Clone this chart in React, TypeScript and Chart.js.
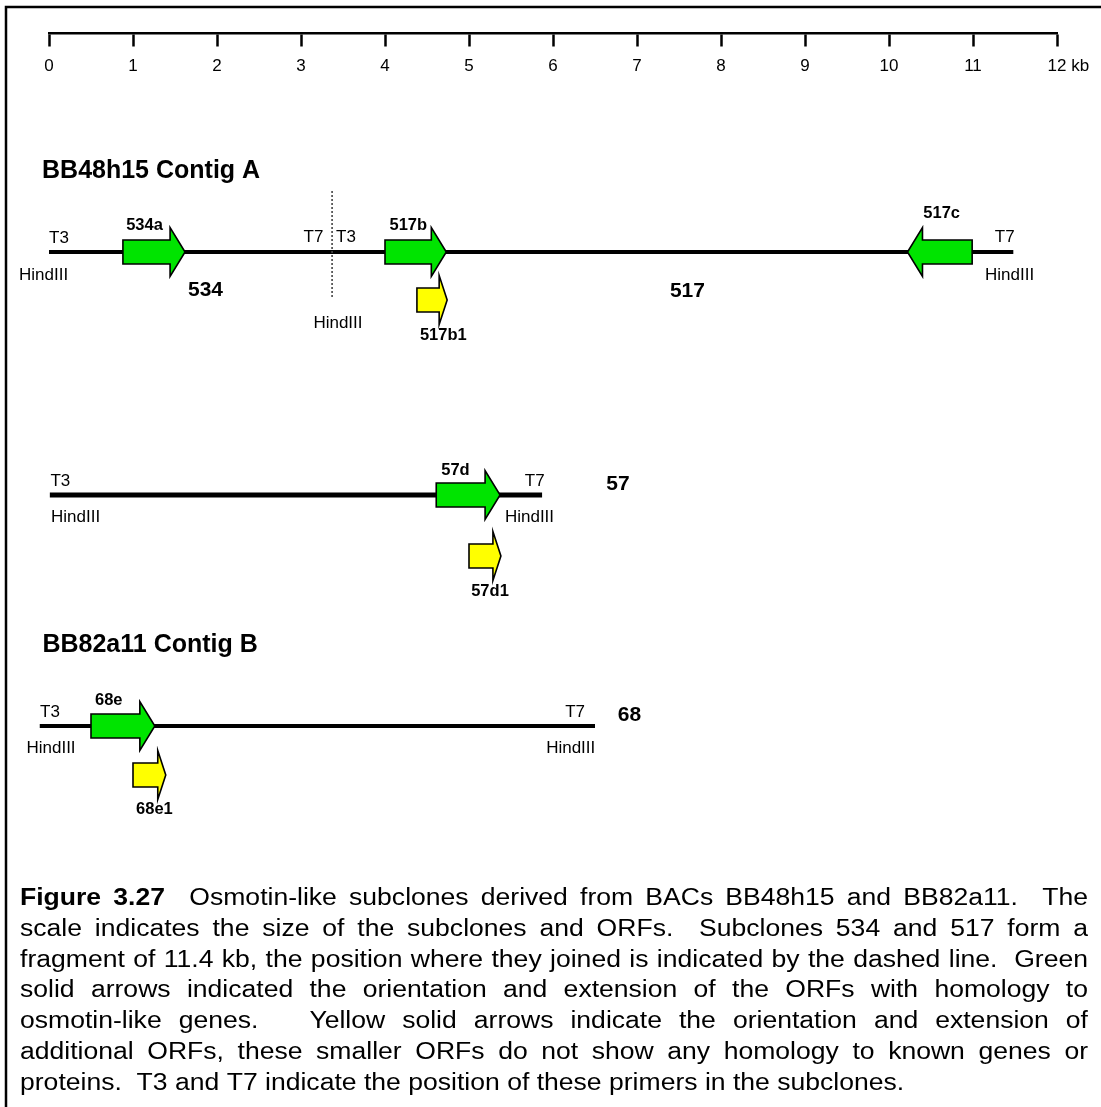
import React, { useEffect, useRef } from "react";
import { Chart, registerables } from "chart.js";

Chart.register(...registerables);

// ---------------- data (kb) ----------------
const TICK_KB = [0, 1, 2, 3, 4, 5, 6, 7, 8, 9, 10, 11, 12];
const TICK_LABELS = ["0", "1", "2", "3", "4", "5", "6", "7", "8", "9", "10", "11", "12"];
const SCALE_UNIT = "kb";

const FRAGMENT_NAMES = ["534 + 517", "57", "68"];
const FRAGMENT_START_KB = [0, 0.01, -0.11];
const FRAGMENT_END_KB = [11.48, 5.87, 6.5];
const JUNCTION_KB = [3.37];

const ORF_NAMES = ["534a", "517b", "517c", "517b1", "57d", "57d1", "68e", "68e1"];
const ORF_FROM_KB = [0.88, 4.0, 10.99, 4.38, 4.61, 5.0, 0.5, 1.0];
const ORF_TO_KB = [1.62, 4.73, 10.22, 4.74, 5.37, 5.38, 1.26, 1.39];
const ORF_KIND = ["osmotin", "osmotin", "osmotin", "other", "osmotin", "other", "osmotin", "other"];

const CAPTION_LINES = [
  "Figure 3.27  Osmotin-like subclones derived from BACs BB48h15 and BB82a11.  The",
  "scale indicates the size of the subclones and ORFs.  Subclones 534 and 517 form a",
  "fragment of 11.4 kb, the position where they joined is indicated by the dashed line.  Green",
  "solid arrows indicated the orientation and extension of the ORFs with homology to",
  "osmotin-like genes.   Yellow solid arrows indicate the orientation and extension of",
  "additional ORFs, these smaller ORFs do not show any homology to known genes or",
  "proteins.  T3 and T7 indicate the position of these primers in the subclones.",
];
const CAPTION_BOLD_WORDS = 2;

// ---------------- layout / style ----------------
const W = 1101;
const H = 1107;
const FONT = "'Liberation Sans', Arial, Helvetica, sans-serif";
const PAD_LEFT = 49;
const PAD_RIGHT = 44;
const SCALE_Y = 33.3;
const TICK_LEN = 12;
const TICK_PAD = 10.5;
const TICK_FONT_SIZE = 17;
const FRAGMENT_Y = [252, 495, 726];
const FRAGMENT_WIDTH = [4, 5, 4];
const ORF_Y = [252, 252, 252, 300, 495, 556, 726, 775];
const JUNCTION_Y = [191, 298];
const SHAFT_HALF = 12;
const HEAD_HALF = 24.5;
const ORF_STYLE: Record<string, { fill: string; head: number }> = {
  osmotin: { fill: "#00e400", head: 15 },
  other: { fill: "#ffff00", head: 8 },
};

type Ann = { text: string; kb: number; y: number; align: CanvasTextAlign; font: string };
const SMALL = `17px ${FONT}`;
const ORFF = `bold 16.5px ${FONT}`;
const CLONEF = `bold 21px ${FONT}`;
const TITLEF = `bold 25px ${FONT}`;

const ANNOTATIONS: Ann[] = [
  { text: "BB48h15 Contig A", kb: -0.083, y: 178.3, align: "left", font: TITLEF },
  { text: "BB82a11 Contig B", kb: -0.078, y: 651.7, align: "left", font: TITLEF },
  // contig A
  { text: "T3", kb: 0.0, y: 243.3, align: "left", font: SMALL },
  { text: "HindIII", kb: -0.065, y: 280, align: "center", font: SMALL },
  { text: "T7", kb: 3.266, y: 241.7, align: "right", font: SMALL },
  { text: "T3", kb: 3.417, y: 241.7, align: "left", font: SMALL },
  { text: "HindIII", kb: 3.44, y: 328.3, align: "center", font: SMALL },
  { text: "T7", kb: 11.496, y: 242, align: "right", font: SMALL },
  { text: "HindIII", kb: 11.435, y: 280, align: "center", font: SMALL },
  { text: "534a", kb: 1.137, y: 230, align: "center", font: ORFF },
  { text: "517b", kb: 4.277, y: 230, align: "center", font: ORFF },
  { text: "517c", kb: 10.627, y: 218.3, align: "center", font: ORFF },
  { text: "517b1", kb: 4.694, y: 340, align: "center", font: ORFF },
  { text: "534", kb: 1.863, y: 295.7, align: "center", font: CLONEF },
  { text: "517", kb: 7.6, y: 296.7, align: "center", font: CLONEF },
  // 57
  { text: "T3", kb: 0.017, y: 486, align: "left", font: SMALL },
  { text: "HindIII", kb: 0.024, y: 521.7, align: "left", font: SMALL },
  { text: "T7", kb: 5.9, y: 486, align: "right", font: SMALL },
  { text: "HindIII", kb: 5.72, y: 521.7, align: "center", font: SMALL },
  { text: "57d", kb: 4.839, y: 475, align: "center", font: ORFF },
  { text: "57d1", kb: 5.25, y: 596, align: "center", font: ORFF },
  { text: "57", kb: 6.774, y: 490, align: "center", font: CLONEF },
  // 68
  { text: "T3", kb: -0.107, y: 716.7, align: "left", font: SMALL },
  { text: "HindIII", kb: 0.024, y: 752.7, align: "center", font: SMALL },
  { text: "T7", kb: 6.381, y: 716.7, align: "right", font: SMALL },
  { text: "HindIII", kb: 6.211, y: 752.7, align: "center", font: SMALL },
  { text: "68e", kb: 0.711, y: 705, align: "center", font: ORFF },
  { text: "68e1", kb: 1.255, y: 814.3, align: "center", font: ORFF },
  { text: "68", kb: 6.91, y: 720.7, align: "center", font: CLONEF },
];

const CAPTION_LEFT = 20;
const CAPTION_RIGHT = 1088;
const CAPTION_FIRST_BASELINE = 905;
const CAPTION_STEP = 30.8;
const CAPTION_SIZE = 23.5;
const CAPTION_STRETCH = 1.13;

function drawCaption(ctx: CanvasRenderingContext2D) {
  const normal = `${CAPTION_SIZE}px ${FONT}`;
  const bold = `bold ${CAPTION_SIZE}px ${FONT}`;
  ctx.save();
  ctx.fillStyle = "#000";
  ctx.textBaseline = "alphabetic";
  ctx.textAlign = "left";
  CAPTION_LINES.forEach((line, li) => {
    const parts = line.split(/( +)/);
    const words: { t: string; b: boolean }[] = [];
    const gaps: number[] = [];
    let wi = 0;
    parts.forEach((p, i) => {
      if (i % 2 === 0) {
        words.push({ t: p, b: li === 0 && wi < CAPTION_BOLD_WORDS });
        wi++;
      } else gaps.push(p.length);
    });
    ctx.font = normal;
    const spaceW = ctx.measureText(" ").width;
    let natural = 0;
    const widths = words.map((w) => {
      ctx.font = w.b ? bold : normal;
      const m = ctx.measureText(w.t).width;
      natural += m;
      return m;
    });
    const nSpaces = gaps.reduce((a, b) => a + b, 0);
    natural += nSpaces * spaceW;
    const avail = (CAPTION_RIGHT - CAPTION_LEFT) / CAPTION_STRETCH;
    const isLast = li === CAPTION_LINES.length - 1;
    const extra = isLast || nSpaces === 0 ? 0 : (avail - natural) / nSpaces;
    ctx.save();
    ctx.translate(CAPTION_LEFT, CAPTION_FIRST_BASELINE + li * CAPTION_STEP);
    ctx.scale(CAPTION_STRETCH, 1);
    let cx = 0;
    words.forEach((w, i) => {
      ctx.font = w.b ? bold : normal;
      ctx.fillText(w.t, cx, 0);
      cx += widths[i];
      if (i < gaps.length) cx += gaps[i] * (spaceW + extra);
    });
    ctx.restore();
  });
  ctx.restore();
}

const diagramPlugin = {
  id: "diagram",
  afterDatasetsDraw(chart: any) {
    const { ctx } = chart;
    const xs = chart.scales.x;
    const ys = chart.scales.y;
    const px = (kb: number) => xs.getPixelForValue(kb);
    const py = (v: number) => ys.getPixelForValue(v);
    ctx.save();
    // junction (dashed)
    JUNCTION_KB.forEach((kb) => {
      ctx.beginPath();
      ctx.setLineDash([2, 2]);
      ctx.strokeStyle = "#444";
      ctx.lineWidth = 1.6;
      ctx.moveTo(px(kb), py(JUNCTION_Y[0]));
      ctx.lineTo(px(kb), py(JUNCTION_Y[1]));
      ctx.stroke();
      ctx.setLineDash([]);
    });
    // ORF arrows
    ORF_NAMES.forEach((_, i) => {
      const from = px(ORF_FROM_KB[i]);
      const to = px(ORF_TO_KB[i]);
      const cy = py(ORF_Y[i]);
      const dir = Math.sign(to - from);
      const st = ORF_STYLE[ORF_KIND[i]];
      const base = to - dir * st.head;
      ctx.beginPath();
      ctx.moveTo(from, cy - SHAFT_HALF);
      ctx.lineTo(base, cy - SHAFT_HALF);
      ctx.lineTo(base, cy - HEAD_HALF);
      ctx.lineTo(to, cy);
      ctx.lineTo(base, cy + HEAD_HALF);
      ctx.lineTo(base, cy + SHAFT_HALF);
      ctx.lineTo(from, cy + SHAFT_HALF);
      ctx.closePath();
      ctx.fillStyle = st.fill;
      ctx.fill();
      ctx.lineWidth = 1.6;
      ctx.lineJoin = "miter";
      ctx.strokeStyle = "#000";
      ctx.stroke();
    });
    // text annotations
    ctx.fillStyle = "#000";
    ctx.textBaseline = "alphabetic";
    ANNOTATIONS.forEach((a) => {
      ctx.font = a.font;
      ctx.textAlign = a.align;
      ctx.fillText(a.text, px(a.kb), py(a.y));
    });
    ctx.restore();
  },
  afterDraw(chart: any) {
    const { ctx } = chart;
    const xs = chart.scales.x;
    ctx.save();
    // frame
    ctx.strokeStyle = "#000";
    ctx.lineWidth = 2.5;
    ctx.beginPath();
    ctx.moveTo(W + 2, 7);
    ctx.lineTo(6, 7);
    ctx.lineTo(6, H + 2);
    ctx.stroke();
    // unit after last tick label
    ctx.font = `${TICK_FONT_SIZE}px ${FONT}`;
    const last = TICK_LABELS[TICK_LABELS.length - 1];
    const ux =
      xs.getPixelForValue(TICK_KB[TICK_KB.length - 1]) +
      ctx.measureText(last).width / 2 +
      ctx.measureText(" ").width;
    ctx.fillStyle = "#000";
    ctx.textAlign = "left";
    ctx.textBaseline = "middle";
    ctx.fillText(SCALE_UNIT, ux, SCALE_Y + TICK_LEN + TICK_PAD + (TICK_FONT_SIZE * 1.2) / 2);
    ctx.restore();
    drawCaption(ctx);
  },
};

export default function App() {
  const ref = useRef<HTMLCanvasElement | null>(null);
  useEffect(() => {
    if (!ref.current) return;
    const datasets = FRAGMENT_NAMES.map((name, i) => ({
      label: name,
      data: [
        { x: FRAGMENT_START_KB[i], y: FRAGMENT_Y[i] },
        { x: FRAGMENT_END_KB[i], y: FRAGMENT_Y[i] },
      ],
      showLine: true,
      borderColor: "#000",
      borderWidth: FRAGMENT_WIDTH[i],
      pointRadius: 0,
      clip: false as any,
    }));
    const chart = new Chart(ref.current, {
      type: "scatter",
      data: { datasets },
      options: {
        responsive: false,
        maintainAspectRatio: false,
        devicePixelRatio: 1,
        animation: false,
        events: [],
        layout: { padding: { left: PAD_LEFT, right: PAD_RIGHT, top: 0, bottom: 0 } },
        plugins: { legend: { display: false }, tooltip: { enabled: false } },
        scales: {
          x: {
            type: "linear",
            min: TICK_KB[0],
            max: TICK_KB[TICK_KB.length - 1],
            position: { y: SCALE_Y } as any,
            afterFit: (s: any) => {
              s.height = 0;
            },
            afterBuildTicks: (s: any) => {
              s.ticks = TICK_KB.map((v) => ({ value: v }));
            },
            grid: {
              drawOnChartArea: false,
              drawTicks: true,
              tickLength: TICK_LEN,
              tickWidth: 2.5,
              tickColor: "#000",
            },
            border: { display: true, color: "#000", width: 2.5 },
            ticks: {
              autoSkip: false,
              maxRotation: 0,
              minRotation: 0,
              padding: TICK_PAD,
              color: "#000",
              font: { family: FONT, size: TICK_FONT_SIZE },
              callback: (_v: any, i: number) => TICK_LABELS[i],
            },
          },
          y: { type: "linear", display: false, min: 0, max: H, reverse: true },
        },
      },
      plugins: [diagramPlugin],
    });
    return () => chart.destroy();
  }, []);
  return (
    <div style={{ position: "fixed", left: 0, top: 0, width: W, height: H, background: "#fff" }}>
      <canvas ref={ref} width={W} height={H} style={{ width: W, height: H, display: "block" }} />
    </div>
  );
}
